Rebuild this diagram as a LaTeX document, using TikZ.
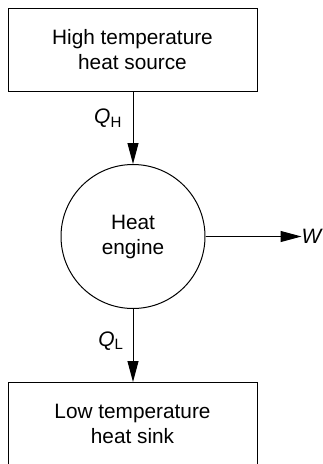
\documentclass[tikz,border=0pt]{standalone}
\usepackage{fontspec}
\setmainfont{Liberation Sans}
\usetikzlibrary{arrows.meta}
\begin{document}
\begin{tikzpicture}[x=1pt,y=-1pt,
  every node/.style={font=\fontsize{20.8}{25}\selectfont, inner sep=0pt},
  reservoir/.style={draw, line width=1pt, rectangle, minimum width=249pt, minimum height=83pt, align=center},
  engine/.style={draw, line width=1pt, circle, minimum size=144pt, align=center},
  flow/.style={line width=1pt, -{Triangle[length=21pt,width=11pt]}},
  qlabel/.style={font=\fontsize{21}{22}\selectfont}]
\useasboundingbox (0,0) rectangle (323,464);
\node[reservoir] (src) at (132.5,49.5) {High temperature\\heat source};
\node[engine] (eng) at (133,236.5) {Heat\\engine};
\node[reservoir] (snk) at (132.5,424) {Low temperature\\heat sink};
\node[anchor=west] (w) at (301.5,236.5) {\textit{W}};
\draw[flow] (src.south -| eng.north) -- (eng.north);
\draw[flow] (eng.south) -- (snk.north -| eng.south);
\draw[flow] (eng.east) -- (eng.east -| w.west);
\node[qlabel] (qh) at (108,118.5) {\textit{Q}\textsubscript{\fontsize{15}{15}\selectfont H}};
\node[qlabel] (ql) at (111,341) {\textit{Q}\textsubscript{\fontsize{15}{15}\selectfont L}};
\end{tikzpicture}
\end{document}
